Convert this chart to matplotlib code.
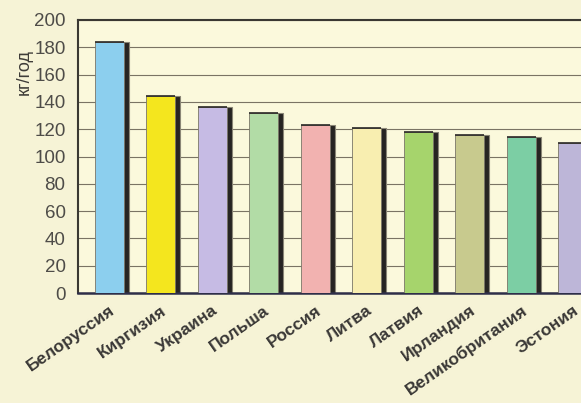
import matplotlib.pyplot as plt
import numpy as np

countries = ['Белоруссия', 'Киргизия', 'Украина', 'Польша', 'Россия',
             'Литва', 'Латвия', 'Ирландия', 'Великобритания', 'Эстония']
values = [184, 144, 136, 132, 123, 121, 118, 116, 114, 110]
colors = ['#8ccfee', '#f4e61e', '#c6bbe4', '#b2dca6', '#f2b2b0',
          '#f8eeb0', '#a6d46c', '#c8ca8e', '#7ccea4', '#bdb6d8']
yticks = [0, 20, 40, 60, 80, 100, 120, 140, 160, 180, 200]

W, H = 581, 403
fig = plt.figure(figsize=(W / 100, H / 100), dpi=100, facecolor='#f6f3d6')
# plot area: x 78..581 px, y 20..293 px
ax = fig.add_axes([78 / W, (H - 293) / H, (W - 78) / W, 273 / H])
ax.set_facecolor('#fbf9dc')

pitch = 51.5
x = np.arange(len(countries))
bw = 29 / pitch
sh = 6 / pitch

ax.bar(x + bw / 2 + sh / 2 - 0.01, values, width=sh, color='#262422',
       edgecolor='#8a8676', linewidth=0.8, zorder=2)
ax.bar(x, values, width=bw, color=colors, edgecolor='#7a7668',
       linewidth=0.6, zorder=3)
ax.bar(x, [0.0] * len(x), bottom=values, width=bw, edgecolor='#2a2826',
       linewidth=1.2, zorder=4)

ax.set_xlim((78 - 109) / pitch, (581 - 109) / pitch)
ax.set_ylim(0, 200)
ax.set_yticks(yticks)
ax.yaxis.grid(True, color='#7a7464', linewidth=0.8, zorder=0)
ax.set_axisbelow(True)

ax.spines['right'].set_visible(False)
ax.spines['left'].set_color('#3a3832')
ax.spines['left'].set_linewidth(1.5)
ax.spines['top'].set_color('#3a3832')
ax.spines['top'].set_linewidth(1.5)
ax.spines['bottom'].set_color('#2e2e48')
ax.spines['bottom'].set_linewidth(1.8)

ax.tick_params(axis='y', length=0, pad=9, labelsize=13.5, labelcolor='#4e4c48')
ax.tick_params(axis='x', length=0, pad=7)
for lbl in ax.get_yticklabels():
    lbl.set_family('Liberation Sans')

ax.set_xticks(x)
ax.set_xticklabels(countries, rotation=35, ha='right', rotation_mode='anchor',
                   fontsize=12.5, fontweight='bold', color='#3a3836',
                   family='Liberation Sans')

fig.text(24 / W, 1 - 72 / H, 'кг/год', rotation=90, ha='center', va='center',
         fontsize=13, color='#3e3c38', family='Liberation Sans')

fig.savefig('out.png', dpi=100, facecolor=fig.get_facecolor())
